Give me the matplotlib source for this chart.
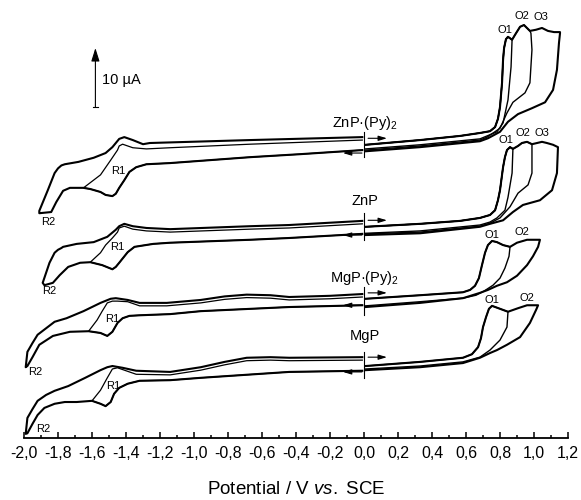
## Cyclic voltammograms of ZnP, MgP and their pyridine adducts (stacked, currents in uA)

import numpy as np
import matplotlib
matplotlib.use('Agg')
import matplotlib.pyplot as plt

plt.rcParams['font.family'] = 'Liberation Sans'
plt.rcParams['mathtext.fontset'] = 'custom'
plt.rcParams['mathtext.rm'] = 'Liberation Sans'
plt.rcParams['mathtext.it'] = 'Liberation Sans:italic'

E_ticks = [-2.0, -1.8, -1.6, -1.4, -1.2, -1.0, -0.8, -0.6, -0.4, -0.2,
           0.0, 0.2, 0.4, 0.6, 0.8, 1.0, 1.2]
E_labels = ['-2,0', '-1,8', '-1,6', '-1,4', '-1,2', '-1,0', '-0,8', '-0,6', '-0,4',
            '-0,2', '0,0', '0,2', '0,4', '0,6', '0,8', '1,0', '1,2']

## ZnP.(Py)2
znpy_low_E = [-0.01, -0.38, -0.67, -1.14, -1.28, -1.34, -1.38, -1.41, -1.44, -1.46,
              -1.48, -1.52, -1.55, -1.61, -1.65, -1.73, -1.77, -1.81, -1.84, -1.91]
znpy_low_I = [48.8, 48.1, 47.6, 46.6, 46.4, 45.9, 45.1, 43.7, 42.4, 41.4,
              41.0, 41.2, 41.7, 42.2, 42.4, 42.4, 41.9, 40.0, 38.3, 38.1]
znpy_out_E = [-1.91, -1.86, -1.82, -1.80, -1.78, -1.76, -1.68, -1.59, -1.52, -1.48, -1.44,
              -1.41, -1.36, -1.30, -1.26, -0.67, -0.01]
znpy_out_I = [38.5, 42.0, 44.9, 45.7, 46.2, 46.4, 46.8, 47.5, 48.3, 49.3, 50.7,
              51.0, 50.5, 49.8, 50.0, 50.5, 51.0]
znpy_inn_E = [-1.65, -1.55, -1.49, -1.45, -1.44, -1.42, -1.36, -1.28, -1.14, -0.67, -0.01]
znpy_inn_I = [42.4, 44.6, 47.1, 48.8, 49.5, 49.8, 49.2, 49.0, 49.2, 49.8, 50.5]
znpy_fwd_E = [0.01, 0.33, 0.565, 0.682, 0.741, 0.771, 0.788, 0.800, 0.812, 0.818, 0.824,
              0.835, 0.847, 0.871, 0.894, 0.918, 0.941, 0.976, 1.012, 1.047, 1.082,
              1.118, 1.153]
znpy_fwd_I = [49.7, 50.5, 51.2, 51.7, 52.0, 52.7, 54.1, 56.1, 60.2, 64.1, 66.1,
              67.6, 68.0, 67.5, 68.6, 69.7, 70.0, 69.0, 69.2, 69.5, 69.0,
              68.8, 68.8]
znpy_o1_E = [0.871, 0.865, 0.847, 0.818, 0.782, 0.724, 0.682, 0.33, 0.01]
znpy_o1_I = [67.5, 62.9, 57.3, 53.4, 51.9, 51.2, 50.7, 49.7, 49.0]
znpy_o2_E = [0.982, 0.988, 0.976, 0.947, 0.876, 0.841, 0.800, 0.724, 0.682, 0.33, 0.01]
znpy_o2_I = [68.6, 65.8, 60.2, 58.5, 56.9, 55.1, 52.5, 51.0, 50.5, 49.5, 48.8]
znpy_o3_E = [1.153, 1.147, 1.135, 1.112, 1.065, 0.988, 0.906, 0.847, 0.800, 0.729,
             0.682, 0.33, 0.01]
znpy_o3_I = [68.6, 67.0, 62.4, 59.0, 56.9, 55.9, 54.9, 53.6, 51.9, 50.8,
             50.3, 49.3, 48.6]

## ZnP
znp_low_E = [-0.01, -0.44, -0.67, -1.14, -1.24, -1.35, -1.39, -1.44, -1.46, -1.48,
             -1.54, -1.61, -1.67, -1.74, -1.79, -1.83, -1.88]
znp_low_I = [34.6, 33.9, 33.6, 33.1, 32.9, 32.4, 31.5, 29.7, 29.0, 28.6,
             29.3, 29.8, 29.7, 29.0, 27.6, 26.3, 25.9]
znp_out_E = [-1.89, -1.85, -1.82, -1.80, -1.78, -1.77, -1.69, -1.59, -1.51, -1.46, -1.44,
             -1.41, -1.36, -1.28, -1.14, -0.67, -0.44, -0.01]
znp_out_I = [26.3, 29.7, 31.4, 31.9, 32.2, 32.4, 32.9, 33.2, 34.1, 35.3, 35.9,
             36.3, 35.9, 35.6, 35.4, 35.9, 36.1, 36.8]
znp_inn_E = [-1.61, -1.55, -1.52, -1.48, -1.45, -1.44, -1.41, -1.36, -1.28, -1.14,
             -0.67, -0.44, -0.01]
znp_inn_I = [29.8, 31.4, 32.7, 33.9, 34.9, 35.6, 35.9, 35.4, 35.1, 34.9,
             35.4, 35.6, 36.3]
znp_fwd_E = [0.01, 0.33, 0.565, 0.682, 0.741, 0.771, 0.788, 0.800, 0.818, 0.829, 0.841,
             0.859, 0.876, 0.906, 0.929, 0.959, 0.988, 1.018, 1.047, 1.076, 1.112, 1.141]
znp_fwd_I = [35.8, 36.3, 36.8, 37.3, 37.8, 38.6, 40.3, 42.0, 45.9, 47.6, 48.8,
             49.3, 49.0, 49.5, 50.0, 50.2, 49.8, 50.0, 50.2, 50.0, 49.7, 49.3]
znp_o1_E = [0.876, 0.871, 0.847, 0.829, 0.782, 0.741, 0.682, 0.33, 0.01]
znp_o1_I = [49.0, 44.9, 40.8, 38.6, 37.3, 36.6, 36.1, 35.1, 34.7]
znp_o2_E = [0.988, 0.988, 0.965, 0.906, 0.859, 0.800, 0.741, 0.682, 0.33, 0.01]
znp_o2_I = [49.8, 44.9, 42.9, 41.5, 39.2, 37.3, 36.4, 35.9, 34.9, 34.6]
znp_o3_E = [1.141, 1.135, 1.106, 1.035, 0.935, 0.876, 0.818, 0.741, 0.682, 0.33, 0.01]
znp_o3_I = [49.3, 44.9, 42.0, 40.3, 39.5, 38.3, 36.9, 36.3, 35.8, 34.7, 34.4]

## MgP.(Py)2
mgpy_low_E = [-0.01, -0.44, -0.96, -1.14, -1.32, -1.38, -1.42, -1.45, -1.48, -1.51,
              -1.55, -1.62, -1.73, -1.83, -1.91, -1.95, -1.98]
mgpy_low_I = [22.5, 22.2, 21.5, 21.0, 20.8, 20.7, 20.3, 19.5, 18.0, 17.3,
              17.8, 18.1, 18.0, 17.3, 15.8, 13.7, 12.2]
mgpy_out_E = [-1.99, -1.98, -1.95, -1.92, -1.87, -1.82, -1.75, -1.65, -1.55, -1.49,
              -1.46, -1.39, -1.32, -1.16, -0.96, -0.82, -0.69, -0.55, -0.44, -0.20, -0.01]
mgpy_out_I = [12.0, 14.6, 16.1, 17.5, 18.6, 19.7, 20.3, 21.5, 22.9, 23.6,
              23.7, 23.4, 22.9, 22.9, 23.4, 24.0, 24.3, 24.2, 23.9, 24.1, 24.4]
mgpy_inn_E = [-1.62, -1.57, -1.54, -1.51, -1.48, -1.45, -1.39, -1.32, -1.16, -0.96,
              -0.82, -0.69, -0.55, -0.44, -0.20, -0.01]
mgpy_inn_I = [18.1, 20.0, 21.5, 22.9, 23.2, 23.2, 23.1, 22.4, 22.4, 22.9,
              23.5, 23.8, 23.7, 23.4, 23.6, 23.9]
mgpy_fwd_E = [0.01, 0.33, 0.582, 0.624, 0.653, 0.676, 0.694, 0.712, 0.729, 0.753,
              0.782, 0.818, 0.859, 0.900, 0.959, 1.035]
mgpy_fwd_I = [23.6, 24.2, 24.7, 25.1, 25.8, 27.1, 29.3, 31.4, 32.7, 33.4,
              33.2, 32.7, 32.4, 33.1, 33.6, 33.6]
mgpy_o1_E = [0.859, 0.853, 0.829, 0.800, 0.759, 0.706, 0.659, 0.582, 0.33, 0.01]
mgpy_o1_I = [32.4, 30.8, 28.8, 27.1, 25.9, 24.9, 24.2, 23.7, 23.1, 22.4]
mgpy_o2_E = [1.035, 1.024, 0.994, 0.959, 0.900, 0.841, 0.782, 0.729, 0.682, 0.582,
             0.33, 0.01]
mgpy_o2_I = [33.6, 32.4, 30.8, 29.3, 27.5, 26.4, 25.8, 25.1, 24.6, 23.7,
             22.9, 22.2]

## MgP
mgp_low_E = [-0.01, -0.44, -0.96, -1.14, -1.32, -1.39, -1.44, -1.47, -1.49, -1.52,
             -1.55, -1.60, -1.69, -1.76, -1.82, -1.88, -1.92, -1.95, -1.98]
mgp_low_I = [11.4, 11.2, 10.2, 9.8, 9.7, 9.2, 8.5, 7.5, 6.1, 5.4,
             5.8, 6.3, 6.1, 6.1, 5.8, 5.1, 3.9, 2.4, 0.8]
mgp_out_E = [-1.99, -1.98, -1.95, -1.92, -1.87, -1.82, -1.74, -1.64, -1.55, -1.51,
             -1.48, -1.42, -1.34, -1.14, -0.96, -0.82, -0.69, -0.55, -0.44, -0.01]
mgp_out_I = [0.7, 3.4, 4.9, 6.3, 7.3, 8.0, 8.8, 10.2, 11.5, 12.0,
             12.2, 11.9, 11.4, 11.2, 12.0, 12.9, 13.6, 13.7, 13.6, 13.7]
mgp_inn_E = [-1.60, -1.55, -1.51, -1.48, -1.45, -1.41, -1.34, -1.14, -0.96, -0.82,
             -0.69, -0.55, -0.44, -0.01]
mgp_inn_I = [6.3, 8.1, 10.2, 11.7, 11.9, 11.5, 10.8, 10.7, 11.5, 12.4,
             13.1, 13.2, 13.1, 13.2]
mgp_fwd_E = [0.01, 0.33, 0.582, 0.635, 0.671, 0.688, 0.700, 0.718, 0.735, 0.753,
             0.800, 0.847, 0.906, 0.959, 1.024]
mgp_fwd_I = [12.2, 12.9, 13.6, 14.2, 15.4, 16.9, 18.8, 20.5, 21.9, 22.4,
             21.9, 21.4, 22.0, 22.5, 22.5]
mgp_o1_E = [0.847, 0.841, 0.800, 0.741, 0.682, 0.582, 0.33, 0.01]
mgp_o1_I = [21.4, 18.8, 16.6, 14.9, 13.7, 12.9, 12.2, 11.7]
mgp_o2_E = [1.024, 1.012, 0.976, 0.918, 0.841, 0.782, 0.741, 0.682, 0.582, 0.33, 0.01]
mgp_o2_I = [22.5, 21.7, 19.5, 17.1, 15.8, 14.9, 14.4, 13.6, 12.7, 12.0, 11.5]

## labels and markers
names = ['ZnP·(Py)$_2$', 'ZnP', 'MgP·(Py)$_2$', 'MgP']
name_I = [52.7, 39.5, 26.4, 16.6]
start_lo = [47.6, 33.6, 20.8, 10.2]
start_hi = [51.9, 38.1, 25.6, 14.6]
arrow_fwd_I = [50.8, 36.9, 24.6, 13.7]
arrow_back_I = [48.3, 34.4, 22.5, 11.2]

peak_text = ['O1', 'O2', 'O3', 'R1', 'R2',
             'O1', 'O2', 'O3', 'R1', 'R2',
             'O1', 'O2', 'R1', 'R2',
             'O1', 'O2', 'R1', 'R2']
peak_E = [0.829, 0.929, 1.041, -1.447, -1.859,
          0.835, 0.935, 1.047, -1.453, -1.853,
          0.753, 0.929, -1.482, -1.935,
          0.753, 0.959, -1.476, -1.888]
peak_I = [69.2, 71.5, 71.4, 45.3, 36.6,
          50.5, 51.7, 51.7, 32.4, 24.9,
          34.4, 34.9, 20.2, 11.2,
          23.4, 23.7, 8.8, 1.5]

curves = [
    (znpy_low_E, znpy_low_I, znpy_out_E, znpy_out_I, znpy_inn_E, znpy_inn_I,
     znpy_fwd_E, znpy_fwd_I,
     [(znpy_o1_E, znpy_o1_I), (znpy_o2_E, znpy_o2_I), (znpy_o3_E, znpy_o3_I)]),
    (znp_low_E, znp_low_I, znp_out_E, znp_out_I, znp_inn_E, znp_inn_I,
     znp_fwd_E, znp_fwd_I,
     [(znp_o1_E, znp_o1_I), (znp_o2_E, znp_o2_I), (znp_o3_E, znp_o3_I)]),
    (mgpy_low_E, mgpy_low_I, mgpy_out_E, mgpy_out_I, mgpy_inn_E, mgpy_inn_I,
     mgpy_fwd_E, mgpy_fwd_I,
     [(mgpy_o1_E, mgpy_o1_I), (mgpy_o2_E, mgpy_o2_I)]),
    (mgp_low_E, mgp_low_I, mgp_out_E, mgp_out_I, mgp_inn_E, mgp_inn_I,
     mgp_fwd_E, mgp_fwd_I,
     [(mgp_o1_E, mgp_o1_I), (mgp_o2_E, mgp_o2_I)]),
]

fig = plt.figure(figsize=(5.81, 5.0), dpi=100)
ax = fig.add_axes([24/581, 62/500, 544/581, 438/500])

for low_E, low_I, out_E, out_I, inn_E, inn_I, fwd_E, fwd_I, rets in curves:
  low_E = np.array(low_E); low_I = np.array(low_I)
  fwd_E = np.array(fwd_E); fwd_I = np.array(fwd_I)
  # reduction side: switch after R1 (thin) and after R2
  m = low_E >= inn_E[0]
  ax.plot(np.concatenate([low_E[m], inn_E]), np.concatenate([low_I[m], inn_I]),
          color='k', lw=0.9, solid_joinstyle='round')
  ax.plot(np.concatenate([low_E, out_E]), np.concatenate([low_I, out_I]),
          color='k', lw=1.5, solid_joinstyle='round')
  # oxidation side: one loop per switching potential
  for k, (rE, rI) in enumerate(rets):
    m = fwd_E <= rE[0]
    lw = 1.5 if k == len(rets) - 1 else 1.0
    ax.plot(np.concatenate([fwd_E[m], rE]), np.concatenate([fwd_I[m], rI]),
            color='k', lw=lw, solid_joinstyle='round')

for i in range(len(names)):
  ax.plot([0.0, 0.0], [start_lo[i], start_hi[i]], color='k', lw=0.8)
  ax.annotate('', xy=(0.135, arrow_fwd_I[i]), xytext=(0.024, arrow_fwd_I[i]),
              arrowprops=dict(arrowstyle='-|>,head_length=0.5,head_width=0.15',
                              color='k', lw=0.8, shrinkA=0, shrinkB=0))
  ax.annotate('', xy=(-0.124, arrow_back_I[i]), xytext=(-0.012, arrow_back_I[i]),
              arrowprops=dict(arrowstyle='-|>,head_length=0.5,head_width=0.15',
                              color='k', lw=0.8, shrinkA=0, shrinkB=0))
  ax.text(0.005, name_I[i], names[i], ha='center', va='baseline', fontsize=10.5)

for t, e, c in zip(peak_text, peak_E, peak_I):
  ax.text(e, c, t, ha='center', va='center', fontsize=8)

# 10 uA scale bar
ax.annotate('', xy=(-1.58, 66.1), xytext=(-1.58, 56.1),
            arrowprops=dict(arrowstyle='-|>,head_length=0.8,head_width=0.25',
                            color='k', lw=0.8, shrinkA=0, shrinkB=0))
ax.plot([-1.597, -1.563], [56.1, 56.1], color='k', lw=0.8)
ax.text(-1.541, 60.0, '10 µA', ha='left', va='baseline', fontsize=10.5)

ax.set_xlim(-2.0, 1.2)
ax.set_ylim(0, 74.24)
ax.set_xticks(E_ticks, E_labels)
ax.set_xticks([-1.9, -1.7, -1.5, -1.3, -1.1, -0.9, -0.7, -0.5, -0.3, -0.1,
               0.1, 0.3, 0.5, 0.7, 0.9, 1.1], minor=True)
ax.tick_params(axis='x', which='major', direction='in', length=4.5, width=1.1,
               labelsize=11.5, pad=6)
ax.tick_params(axis='x', which='minor', direction='in', length=2.5, width=1.1)
ax.set_xlabel('Potential / V $\\mathit{vs.}$ SCE', fontsize=13.5, labelpad=14)
ax.yaxis.set_visible(False)
for s in ['left', 'right', 'top']:
  ax.spines[s].set_visible(False)
ax.spines['bottom'].set_linewidth(1.3)
ax.patch.set_alpha(0)

plt.savefig('out.png', dpi=100)
